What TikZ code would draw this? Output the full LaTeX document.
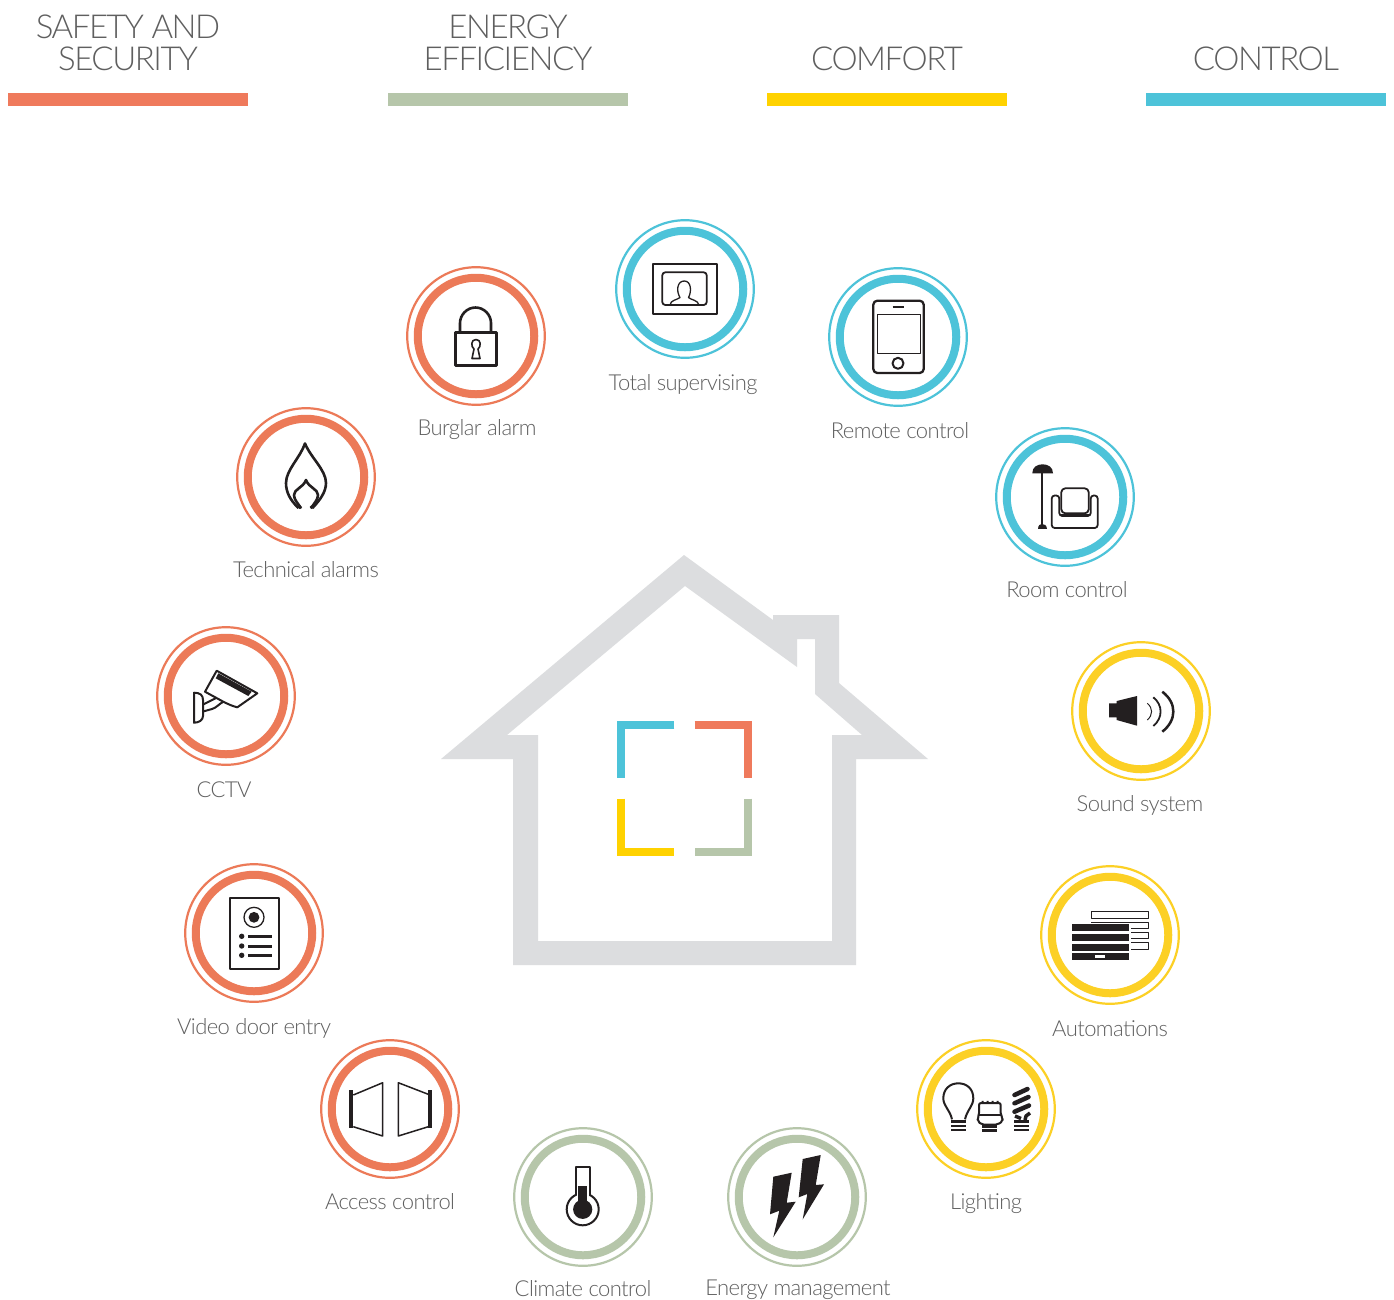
\documentclass[tikz,border=0pt]{standalone}
\usepackage{fontspec}
\setmainfont{Lato Light}
\newfontfamily\labelface[LetterSpace=-2.6]{Lato Light}
\newfontfamily\headface[LetterSpace=-4.4]{Lato Light}
\definecolor{cOrange}{HTML}{EC7A58}
\definecolor{cGreen}{HTML}{B6C6AA}
\definecolor{cYellow}{HTML}{FCD025}
\definecolor{cBlue}{HTML}{4DC3D9}
\definecolor{barOrange}{HTML}{EF7A5C}
\definecolor{barYellow}{HTML}{FFD200}
\definecolor{cHouse}{HTML}{DCDDDF}
\definecolor{cText}{HTML}{5F5F5F}
\definecolor{cIcon}{HTML}{231F20}
\tikzset{
  outerring/.style={circle,draw=#1,line width=2.2pt,minimum size=137.6pt,inner sep=0pt,outer sep=0pt},
  innerring/.style={circle,draw=#1,line width=8pt,minimum size=116.5pt,inner sep=0pt,outer sep=0pt},
  svclabel/.style={anchor=base,inner sep=0pt,text=cText,font=\labelface\fontsize{22}{22}\selectfont},
  headlabel/.style={anchor=base,inner sep=0pt,text=cText,font=\headface\fontsize{33}{33}\selectfont},
  ic/.style={draw=cIcon,line width=#1,line join=round},
  ic/.default=2pt,
  mark1/.style={line width=8pt}
}
\newcommand{\svc}[7]{%
  \node[outerring=#4] (#1) at (#2,#3) {};
  \node[innerring=#4] (#1ring) at (#2,#3) {};
  \node[svclabel] (#1label) at (#6,#7) {#5};
}
\begin{document}
\begin{tikzpicture}[x=1pt,y=-1pt]
\useasboundingbox (0,0) rectangle (1394,1299);
\fill[white] (0,0) rectangle (1394,1299);
% headers
\node[headlabel] (h1a) at (128,38) {SAFETY AND};
\node[headlabel] (h1b) at (128,70) {SECURITY};
\node[headlabel] (h2a) at (508,38) {ENERGY};
\node[headlabel] (h2b) at (508,70) {EFFICIENCY};
\node[headlabel] (h3) at (887,70) {COMFORT};
\node[headlabel] (h4) at (1266,70) {CONTROL};
\fill[barOrange] (8,93) rectangle (248,106);
\fill[cGreen] (388,93) rectangle (628,106);
\fill[barYellow] (767,93) rectangle (1007,106);
\fill[cBlue] (1146,93) rectangle (1386,106);
% house
\fill[cHouse,even odd rule] (684,555) -- (773,620) -- (773,615) -- (839,615) -- (839,683) -- (928,759) -- (856,759) -- (856,965) -- (513,965) -- (513,759) -- (441,759) -- cycle
 (685,586) -- (797,667) -- (797,639) -- (815,639) -- (815,694) -- (862,735) -- (832,735) -- (832,941) -- (538,941) -- (538,735) -- (507,735) -- cycle;
% logo
\draw[mark1,cBlue] (674.3,725) -- (621.3,725) -- (621.3,778.3);
\draw[mark1,barOrange] (694.7,725) -- (747.7,725) -- (747.7,778.3);
\draw[mark1,barYellow] (621.3,798.7) -- (621.3,851.7) -- (674.3,851.7);
\draw[mark1,cGreen] (747.7,798.7) -- (747.7,851.7) -- (694.7,851.7);
% rings
\svc{burglar}{476}{336}{cOrange}{Burglar alarm}{477}{435}
\svc{total}{685}{289}{cBlue}{Total supervising}{683}{390}
\svc{remote}{898}{337}{cBlue}{Remote control}{900}{438}
\svc{room}{1065}{497}{cBlue}{Room control}{1067}{597}
\svc{sound}{1141}{711}{cYellow}{Sound system}{1140}{811}
\svc{autom}{1110}{935}{cYellow}{Automations}{1110}{1036}
\svc{lighting}{986}{1109}{cYellow}{Lighting}{986}{1209}
\svc{energy}{797}{1197}{cGreen}{Energy management}{798}{1295}
\svc{climate}{583}{1197}{cGreen}{Climate control}{583}{1296}
\svc{access}{390}{1109}{cOrange}{Access control}{390}{1209}
\svc{video}{254}{933}{cOrange}{Video door entry}{254}{1034}
\svc{cctv}{226}{696}{cOrange}{CCTV}{224}{797}
\svc{technical}{306}{477}{cOrange}{Technical alarms}{306}{577}
% lock
\draw[ic=2.6pt] (455.7,332.3) rectangle (496.7,365.3);
\draw[ic=2.6pt] (460,332) -- (460,323) .. controls (460,314.8) and (467,307.5) .. (475.5,307.5) .. controls (484,307.5) and (491,314.8) .. (491,323) -- (491,332);
\draw[ic=1.6pt] (474,349) .. controls (471,347) and (470.5,339.5) .. (476,339.5) .. controls (481.5,339.5) and (481,347) .. (478,349) -- (480,358.5) -- (472,358.5) -- cycle;
% monitor
\draw[ic=2pt] (653.3,263.7) rectangle (716.7,314);
\draw[ic=1.8pt,rounded corners=3pt] (662.3,272.3) rectangle (706.7,305);
\draw[ic=1.3pt] (670,305) .. controls (670.5,300) and (677,300) .. (680,297.5) .. controls (676,291) and (677,281) .. (684.3,281) .. controls (691,281) and (692,291) .. (688.5,297.5) .. controls (691,300) and (698,300) .. (699,305);
% phone
\draw[ic=2.3pt,rounded corners=4pt] (873.3,300.7) rectangle (923.7,373);
\draw[ic=1pt] (877.3,314.3) rectangle (920,353);
\draw[ic=2pt] (892.7,307.3) -- (904,307.3);
\draw[ic=2pt] (898,363.3) circle (5.5);
% lamp and armchair
\fill[cIcon] (1032.3,473.3) .. controls (1032.3,467) and (1037,464.3) .. (1042.6,464.3) .. controls (1048,464.3) and (1053,467) .. (1053,473.3) -- cycle;
\draw[ic=1.8pt] (1041.7,473) -- (1041.7,528);
\fill[cIcon] (1038,528.8) .. controls (1038.3,525) and (1040,524) .. (1042,524) .. controls (1044.5,524) and (1046.5,525) .. (1047,528.8) -- cycle;
\draw[ic=1.8pt,rounded corners=3pt] (1059.3,516) -- (1059.3,495.5) -- (1051.7,495.5) -- (1051.7,528) -- (1097.7,528) -- (1097.7,495.5) -- (1090.7,495.5) -- (1090.7,516) -- cycle;
\draw[ic=1.8pt,rounded corners=4pt,fill=white] (1061.3,488.3) rectangle (1088.7,513.3);
\draw[ic=1.6pt] (1060,515) -- (1090,515);
% flame
\draw[ic=2.6pt] (298.5,508) .. controls (290,500) and (286,492) .. (286,483) .. controls (286,470) and (300,458) .. (305,443.5) .. controls (311,458) and (326,470) .. (326,483) .. controls (326,492) and (320,500) .. (312.5,508);
\draw[ic=2.6pt] (301,508.5) .. controls (298,503) and (294,500) .. (294,495) .. controls (294,489) and (303,488) .. (306,480) .. controls (309,488) and (318,489) .. (318,495) .. controls (318,500) and (314,503) .. (311,508.5);
\draw[ic=2.4pt] (298.5,508) -- (301,506);
\draw[ic=2.4pt] (312.5,508) -- (310.5,506);
% cctv
\draw[ic=2pt] (216.7,670.7) -- (257.3,693.3) -- (237.3,707.3) .. controls (232,706) and (228,704) .. (223.3,701.7) -- (205,691.7) -- cycle;
\fill[cIcon] (218.3,673.3) -- (251.7,691.7) -- (248.3,696) -- (215.7,678.3) -- cycle;
\draw[ic=2pt] (194,692.7) .. controls (200,692.7) and (203,695) .. (203,700) -- (203,716) .. controls (203,720) and (199,722.7) .. (194,722.7) -- cycle;
\draw[ic=2pt] (203,704.5) -- (216,698);
\draw[ic=2pt] (203,711.5) -- (212,709) .. controls (216,708) and (219,704) .. (223.3,701.7);
% video door
\draw[ic=2.3pt] (229.7,897.7) rectangle (278.7,969.3);
\draw[ic=1.3pt] (254,917.3) circle (10);
\fill[cIcon] (254,917.3) circle (5.4);
\fill[cIcon] (241.7,936.3) circle (2.7);
\fill[cIcon] (241.7,946) circle (2.7);
\fill[cIcon] (241.7,955.3) circle (2.7);
\draw[ic=3pt] (248.3,936.7) -- (271.7,936.7);
\draw[ic=3pt] (248.3,946) -- (271.7,946);
\draw[ic=3pt] (248.3,955.3) -- (271.7,955.3);
% doors
\draw[ic=4pt] (351.3,1090) -- (351.3,1128.3);
\draw[ic=1.5pt] (353.3,1095) -- (382.7,1082.7) -- (382.7,1136) -- (353.3,1126.7);
\draw[ic=4pt] (430,1090) -- (430,1128.3);
\draw[ic=1.5pt] (428.3,1094.3) -- (398.3,1082.7) -- (398.3,1136) -- (428.3,1126.7);
% thermometer
\draw[ic=2pt] (582.7,1209.3) circle (16);
\draw[ic=2pt,fill=white] (575.5,1195) -- (575.5,1166.5) -- (590,1166.5) -- (590,1195);
\fill[white] (576.5,1192) rectangle (589,1197);
\fill[cIcon] (582.7,1209.3) circle (9.6);
\fill[cIcon] (578.3,1186) rectangle (587,1207);
% bolts
\fill[cIcon] (773.3,1176.7) -- (791.7,1172.7) -- (786.7,1202.7) -- (795.7,1201.7) -- (773.3,1237.3) -- (779.3,1210.7) -- (770,1214.3) -- cycle;
\fill[cIcon] (802.7,1159) -- (820.7,1155) -- (815.7,1185) -- (824,1184.3) -- (802.7,1219.3) -- (807.3,1194) -- (798.7,1197.3) -- cycle;
% blinds
\draw[ic=1pt] (1091,911.7) rectangle (1148.7,918.3);
\draw[ic=1pt] (1091,922) rectangle (1148.7,928.3);
\draw[ic=1pt] (1125,932) rectangle (1148.7,938.3);
\draw[ic=1pt] (1125,942.5) rectangle (1148.7,949);
\fill[white] (1070,923.2) rectangle (1131,961);
\fill[cIcon] (1072,924) rectangle (1129,931);
\fill[cIcon] (1072,934) rectangle (1129,941);
\fill[cIcon] (1072,944) rectangle (1129,951);
\fill[cIcon] (1072,953) rectangle (1129,960);
\fill[white] (1095,954.7) rectangle (1105,957.7);
% bulbs
\draw[ic=2pt] (952,1119.3) .. controls (950,1110) and (943.3,1106) .. (943.3,1098.3) .. controls (943.3,1089) and (950,1083.3) .. (958.3,1083.3) .. controls (967,1083.3) and (973.3,1089) .. (973.3,1098.3) .. controls (973.3,1106) and (967,1110) .. (965,1119.3);
\draw[ic=2.6pt] (951.3,1121.7) -- (966,1121.7);
\draw[ic=2.6pt] (951.3,1125.8) -- (966,1125.8);
\draw[ic=2.6pt] (951.3,1130) -- (966,1130);
\draw[ic=2pt,rounded corners=2pt] (979,1115) -- (979,1103) -- (1000.7,1103) -- (1000.7,1115) -- (1002.7,1118) -- (1002.7,1121) -- (998,1124.5) -- (981.5,1124.5) -- (977.7,1121) -- (977.7,1118) -- cycle;
\draw[ic=1.6pt] (979,1115) -- (1000.7,1115);
\fill[cIcon] (981.5,1100.8) rectangle (983.7,1103) (986.5,1100.8) rectangle (988.7,1103) (991.5,1100.8) rectangle (993.7,1103) (996.5,1100.8) rectangle (998.7,1103);
\draw[ic=2.6pt] (982.3,1126.7) -- (996.7,1126.7);
\draw[ic=2.6pt] (982.3,1130.7) -- (996.7,1130.7);
\draw[ic=4.5pt,line cap=round] (1014.5,1095) -- (1027.5,1089);
\draw[ic=4.5pt,line cap=round] (1014.5,1103.3) -- (1028.5,1097);
\draw[ic=4.5pt,line cap=round] (1014.5,1111.7) -- (1029,1105.5);
\draw[ic=3.5pt] (1015,1116) -- (1021,1118.5);
\draw[ic=3.5pt] (1025,1120) -- (1026,1116) -- (1030,1113);
\draw[ic=2.6pt] (1014,1121.7) -- (1029,1121.7);
\draw[ic=2.6pt] (1014,1125.8) -- (1029,1125.8);
\draw[ic=2.6pt] (1014,1130) -- (1029,1130);
% speaker
\fill[cIcon] (1109,703.3) -- (1116.7,703.3) -- (1116.7,701) -- (1137,696) -- (1137,725.7) -- (1116.7,720) -- (1116.7,717.3) -- (1109,717.3) -- cycle;
\draw[ic=1pt] (1147.3,703.3) .. controls (1153,708) and (1153,715) .. (1147.3,720);
\draw[ic=1.8pt] (1153.3,697.3) .. controls (1163,705) and (1163,718) .. (1153.3,726);
\draw[ic=2.5pt] (1162.3,691.7) .. controls (1177,703) and (1177,720) .. (1162.3,731.7);
\end{tikzpicture}
\end{document}
